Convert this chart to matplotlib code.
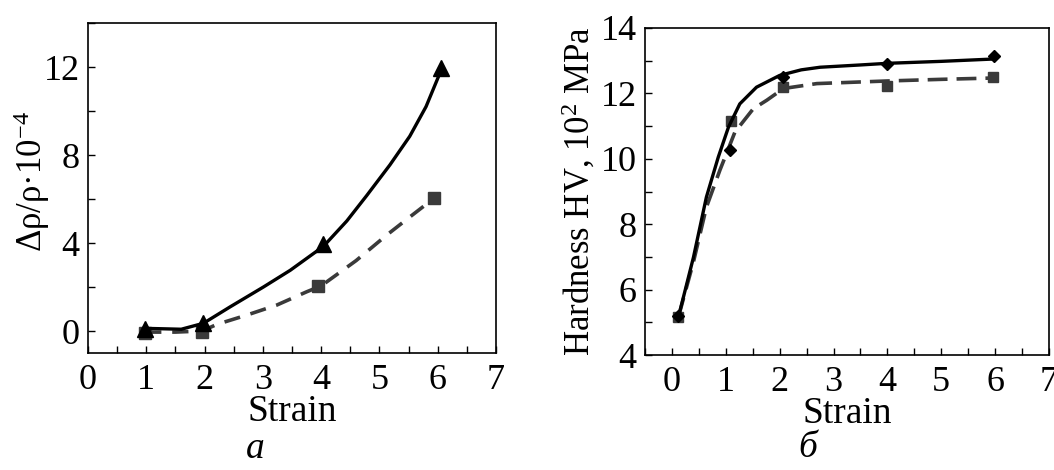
import matplotlib
matplotlib.use("Agg")
import matplotlib.pyplot as plt
from matplotlib.ticker import MultipleLocator

plt.rcParams["font.family"] = ["Liberation Serif", "DejaVu Serif"]
plt.rcParams["mathtext.fontset"] = "custom"
plt.rcParams["mathtext.rm"] = "Liberation Serif"
plt.rcParams["mathtext.it"] = "Liberation Serif:italic"

# --- panel a: resistivity change vs strain ---
a_tri_x = [0.98, 1.98, 4.03, 6.05]
a_tri_y = [0.1, 0.35, 3.95, 11.95]
a_sq_x = [0.98, 1.96, 3.95, 5.93]
a_sq_y = [-0.08, -0.05, 2.05, 6.05]

# fitted curves
a_fit1_x = [0.98, 1.3, 1.6, 1.98, 2.44, 3.01, 3.47, 4.04, 4.44, 4.78, 5.18, 5.52, 5.8, 6.05]
a_fit1_y = [0.12, 0.1, 0.08, 0.35, 1.1, 2.0, 2.76, 3.85, 5.0, 6.15, 7.55, 8.85, 10.2, 11.8]
a_fit2_x = [0.98, 1.5, 1.96, 2.21, 2.72, 3.24, 3.75, 4.0, 4.6, 5.12, 5.52, 5.92]
a_fit2_y = [-0.05, -0.05, 0.0, 0.3, 0.72, 1.18, 1.78, 2.05, 3.2, 4.35, 5.18, 6.0]

# --- panel b: hardness vs strain ---
b_dia_x = [0.12, 1.08, 2.06, 4.0, 5.97]
b_dia_y = [5.2, 10.26, 12.5, 12.9, 13.15]
b_sq_x = [0.12, 1.1, 2.07, 4.0, 5.96]
b_sq_y = [5.15, 11.17, 12.2, 12.22, 12.5]

b_fit1_x = [0.12, 0.40, 0.64, 0.86, 1.05, 1.26, 1.57, 2.0, 2.4, 2.75, 3.5, 4.0, 5.0, 5.95]
b_fit1_y = [5.16, 6.99, 8.83, 10.05, 10.97, 11.68, 12.19, 12.55, 12.72, 12.8, 12.87, 12.92, 12.98, 13.05]
b_fit2_x = [0.12, 0.4, 0.64, 0.89, 1.17, 1.51, 1.76, 2.07, 2.69, 3.5, 4.0, 5.0, 5.95]
b_fit2_y = [5.16, 6.85, 8.52, 9.65, 10.82, 11.53, 11.79, 12.15, 12.3, 12.35, 12.38, 12.43, 12.47]

GRAY = "#3a3a3a"
FS = 26

fig = plt.figure(figsize=(10.54, 4.70), dpi=100)
ax1 = fig.add_axes([88 / 1054, 117 / 470, 408 / 1054, 330 / 470])
ax2 = fig.add_axes([645 / 1054, 115 / 470, 404 / 1054, 327 / 470])


def style_axes(ax):
    for s in ax.spines.values():
        s.set_linewidth(1.2)
    ax.tick_params(which="both", direction="in", length=5, width=1.0,
                   labelsize=FS, top=False, right=False)
    ax.tick_params(axis="x", which="both", pad=8)
    ax.tick_params(axis="y", which="both", pad=6)


# panel a
ax1.plot(a_fit2_x, a_fit2_y, color=GRAY, lw=2.6, dashes=(4.5, 3), zorder=2)
ax1.plot(a_sq_x, a_sq_y, "s", color=GRAY, ms=9, zorder=3)
ax1.plot(a_fit1_x, a_fit1_y, color="black", lw=2.4, zorder=4)
ax1.plot(a_tri_x, a_tri_y, "^", color="black", ms=12, zorder=5)
ax1.set_xlim(0, 7)
ax1.set_ylim(-1, 14)
ax1.xaxis.set_major_locator(MultipleLocator(1))
ax1.xaxis.set_minor_locator(MultipleLocator(0.5))
ax1.yaxis.set_major_locator(MultipleLocator(4))
ax1.yaxis.set_minor_locator(MultipleLocator(2))
style_axes(ax1)
ax1.set_xlabel("Strain", fontsize=FS + 1, labelpad=-2)
ax1.set_ylabel("Δρ/ρ·10$^{\u22124}$", fontsize=FS - 1)
ax1.yaxis.set_label_coords(-0.088, 0.52)

# panel b
ax2.plot(b_fit2_x, b_fit2_y, color=GRAY, lw=2.6, dashes=(5.5, 2.5), zorder=2)
ax2.plot(b_sq_x, b_sq_y, "s", color=GRAY, ms=7, zorder=3)
ax2.plot(b_fit1_x, b_fit1_y, color="black", lw=2.4, zorder=4)
ax2.plot(b_dia_x, b_dia_y, "D", color="black", ms=6, zorder=5)
ax2.set_xlim(-0.5, 7)
ax2.set_ylim(4, 14)
ax2.xaxis.set_major_locator(MultipleLocator(1))
ax2.xaxis.set_minor_locator(MultipleLocator(0.5))
ax2.yaxis.set_major_locator(MultipleLocator(2))
ax2.yaxis.set_minor_locator(MultipleLocator(1))
style_axes(ax2)
ax2.set_xlabel("Strain", fontsize=FS + 1, labelpad=-2)
ax2.set_ylabel("Hardness HV, 10$^{2}$ MPa", fontsize=FS - 1, labelpad=2)

fig.text(255 / 1054, 1 - 449 / 470, "a", fontsize=27, style="italic",
         ha="center", va="center")
fig.text(808 / 1054, 1 - 448 / 470, "б", fontsize=27, style="italic",
         ha="center", va="center")

fig.savefig("out.png", dpi=100)
